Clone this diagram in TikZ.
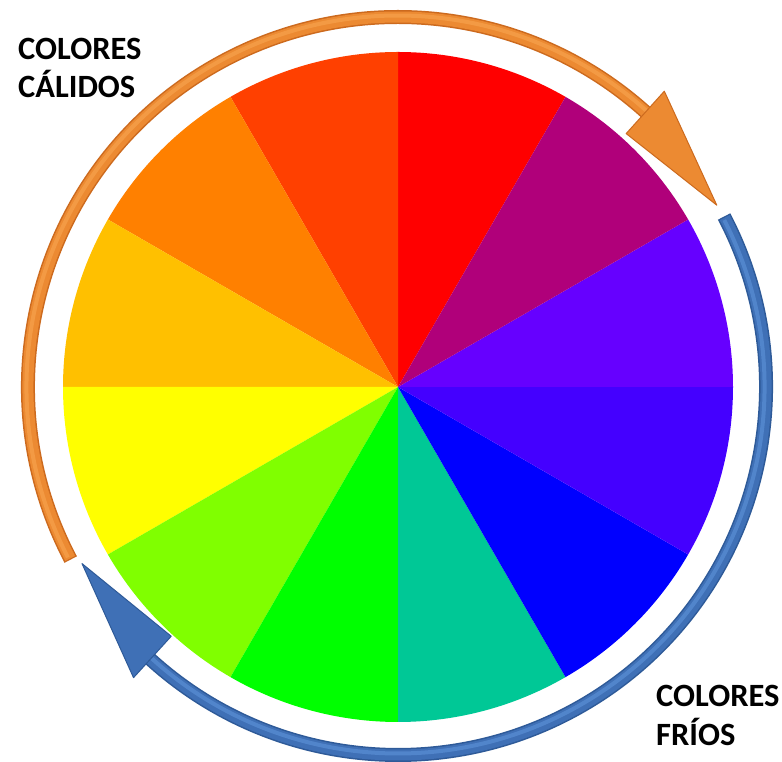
\documentclass[tikz,border=0pt]{standalone}
\usepackage{fontspec}
\setmainfont{Carlito}
\usetikzlibrary{calc}
\definecolor{cRed}{HTML}{FF0000}
\definecolor{cRedOr}{HTML}{FF4000}
\definecolor{cOr}{HTML}{FF8000}
\definecolor{cGold}{HTML}{FFC000}
\definecolor{cYel}{HTML}{FFFF00}
\definecolor{cYelGr}{HTML}{80FF00}
\definecolor{cGreen}{HTML}{00FF00}
\definecolor{cTeal}{HTML}{00C896}
\definecolor{cBlue}{HTML}{0000FF}
\definecolor{cBlViol}{HTML}{4400FF}
\definecolor{cViol}{HTML}{6600FF}
\definecolor{cMag}{HTML}{B0007A}
\definecolor{arrOr}{HTML}{EC8A32}
\definecolor{arrOrDark}{HTML}{CC6A1E}
\definecolor{arrOrLight}{HTML}{F6A24C}
\definecolor{arrBl}{HTML}{3F70B6}
\definecolor{arrBlDark}{HTML}{2E5A98}
\definecolor{arrBlLight}{HTML}{5A8ED4}
\tikzset{
  lbl/.style={font=\bfseries\fontsize{32.5}{38.5}\selectfont, align=left, inner sep=0pt, anchor=north west},
}
\begin{document}
\begin{tikzpicture}[x=1pt,y=1pt]
\useasboundingbox (0,0) rectangle (782,762);
\fill[white] (0,0) rectangle (782,762);
\coordinate (c) at (398,375);
% colour wheel
\foreach \a/\col in {60/cRed,90/cRedOr,120/cOr,150/cGold,180/cYel,210/cYelGr,240/cGreen,270/cTeal,300/cBlue,330/cBlViol,0/cViol,30/cMag}{
  \fill[\col] (c) -- ($(c)+(\a:335)$) arc[start angle=\a, end angle=\a+30, radius=335] -- cycle;
}
% warm arrow (orange)
\draw[arrOrDark, line width=14] ($(c)+(207.8:370)$) arc[start angle=207.8, end angle=47, radius=370];
\draw[arrOr, line width=11] ($(c)+(207.6:370)$) arc[start angle=207.6, end angle=47, radius=370];
\draw[arrOrLight, line width=4, opacity=0.7] ($(c)+(207.3:371.5)$) arc[start angle=207.3, end angle=47, radius=371.5];
\filldraw[fill=arrOr, draw=arrOrDark, line width=1, line join=round] ($(c)+(48:398)$) -- ($(c)+(29.7:367)$) -- ($(c)+(48:341)$) -- cycle;
% cool arrow (blue)
\draw[arrBlDark, line width=14] ($(c)+(27.6:368)$) arc[start angle=27.6, end angle=-133, radius=368];
\draw[arrBl, line width=11] ($(c)+(27.4:368)$) arc[start angle=27.4, end angle=-133, radius=368];
\draw[arrBlLight, line width=4, opacity=0.7] ($(c)+(27.1:366.5)$) arc[start angle=27.1, end angle=-133, radius=366.5];
\filldraw[fill=arrBl, draw=arrBlDark, line width=1, line join=round] ($(c)+(227.7:393)$) -- ($(c)+(209.2:362)$) -- ($(c)+(227.7:337)$) -- cycle;
% labels
\node[lbl] (warm) at (18,724) {COLORES\\CÁLIDOS};
\node[lbl] (cool) at (656,77) {COLORES\\FRÍOS};
\end{tikzpicture}
\end{document}
